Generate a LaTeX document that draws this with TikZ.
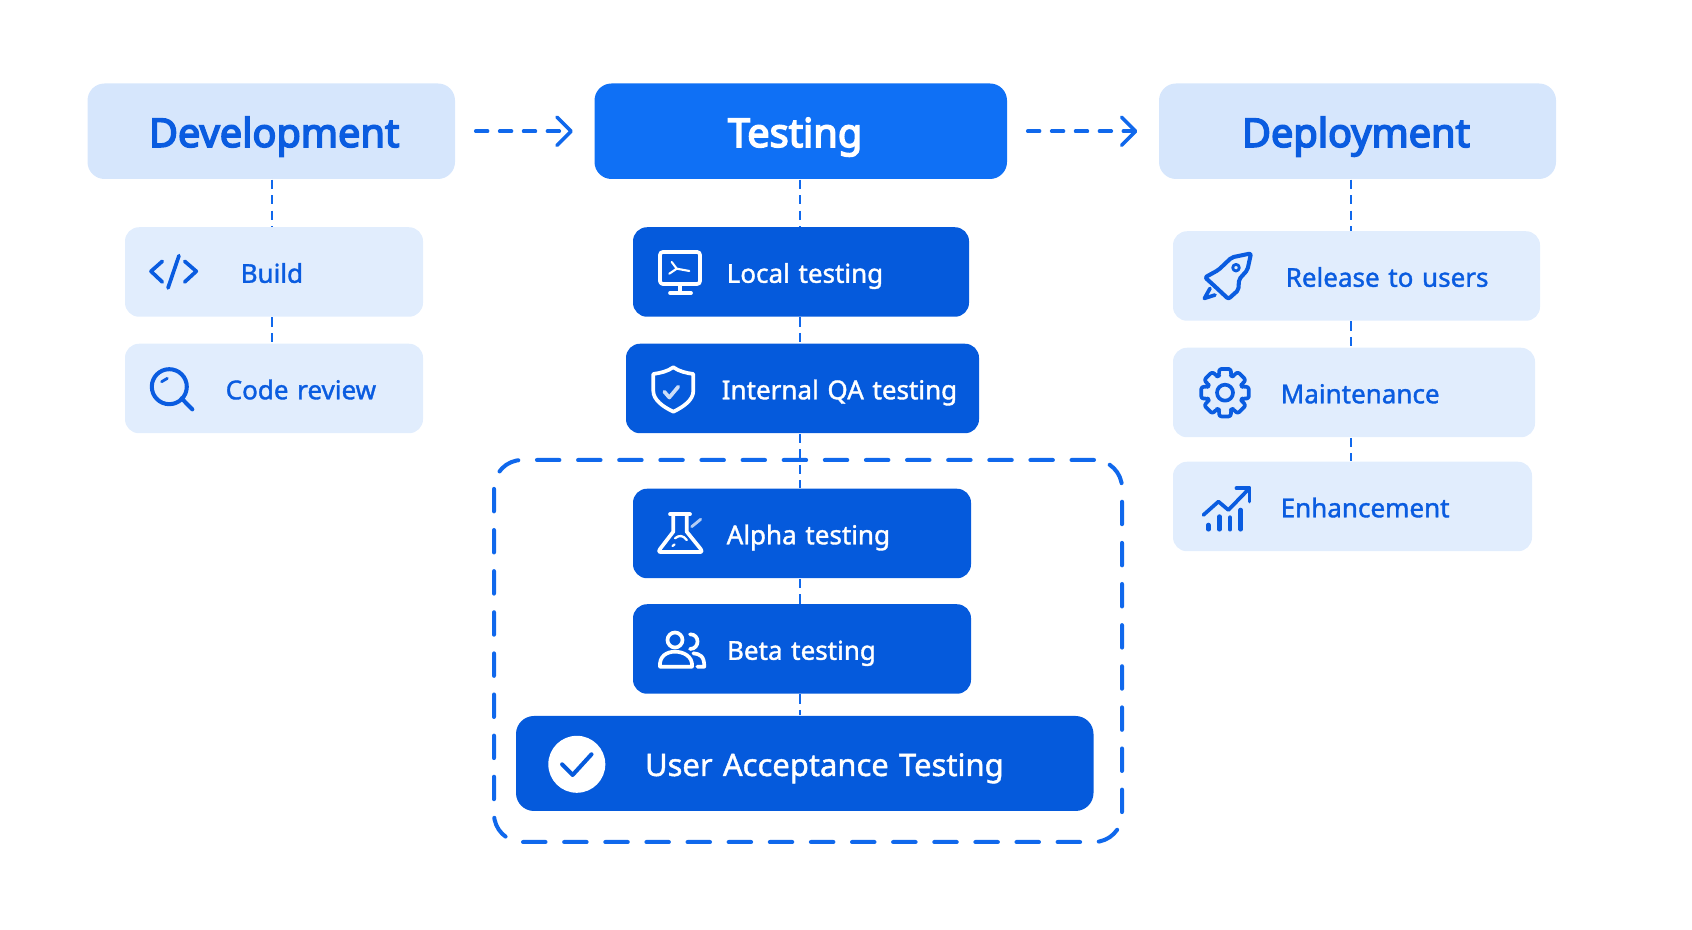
\documentclass[tikz,border=0pt]{standalone}
\usepackage{xcolor}
\usepackage{fontspec}
\setmainfont{Noto Sans}
\newfontfamily\headfont[FakeBold=4]{Noto Sans}
\newfontfamily\rowfont[FakeBold=1.4]{Noto Sans}
\usepackage{tikz}
\usetikzlibrary{arrows.meta}
\definecolor{headlight}{HTML}{D6E6FC}
\definecolor{rowlight}{HTML}{E1EDFD}
\definecolor{headblue}{HTML}{0F70F5}
\definecolor{rowblue}{HTML}{055ADC}
\definecolor{inkblue}{HTML}{0A5CE0}
\definecolor{linkblue}{HTML}{1068EC}
\begin{document}
\begin{tikzpicture}[
  box/.style={rectangle, rounded corners=0.14cm, inner xsep=0pt, inner ysep=0pt,
    align=left, text height=0.28cm, text depth=0.064cm},
  headbox/.style={box, rounded corners=0.17cm, minimum height=0.955cm,
    text height=0.40cm, text depth=0.085cm, font=\fontsize{11.3}{14}\headfont},
  lightrow/.style={box, fill=rowlight, text=inkblue, minimum height=0.895cm,
    font=\fontsize{7.4}{10}\rowfont},
  darkrow/.style={box, fill=rowblue, text=white, minimum height=0.895cm,
    font=\fontsize{7.4}{10}\rowfont},
  groupframe/.style={rectangle, draw=linkblue, line width=1.14pt, rounded corners=0.28cm,
    line cap=round, dash pattern=on 6.4pt off 5.3pt, minimum width=6.28cm, minimum height=3.82cm},
  link/.style={draw=linkblue, line width=0.7pt, dash pattern=on 2.6pt off 1.8pt},
  flow/.style={draw=linkblue, line width=1pt, line cap=round, dash pattern=on 3.4pt off 3.4pt,
    shorten <=0.2cm, shorten >=0.21cm,
    -{Straight Barb[length=4pt, width=8pt, round]}},
  icon/.style={line width=1.05pt, line cap=round, line join=round},
]
  %% Row 1: the three stages
  \node[headbox, fill=headlight, text=inkblue, text width=3.675cm] (dev) at (2.7125,7.9875)
    {\hspace*{0.615cm}Development};
  \node[headbox, fill=headblue, text=white, text width=4.125cm] (test) at (8.0075,7.9875)
    {\hspace*{1.335cm}Testing};
  \node[headbox, fill=headlight, text=inkblue, text width=3.97cm] (depl) at (13.575,7.9875)
    {\hspace*{0.83cm}Deployment};

  %% Left column
  \node[lightrow, text width=2.98cm] (build) at (2.74,6.58) {\hspace*{1.157cm}Build};
  \node[lightrow, text width=2.98cm] (code) at (2.74,5.415) {\hspace*{1.007cm}Code review};

  %% Centre column
  \node[groupframe] (group) at (8.08,2.79) {};
  \node[darkrow, text width=3.36cm] (local) at (8.01,6.58) {\hspace*{0.937cm}Local testing};
  \node[darkrow, text width=3.53cm] (intqa) at (8.025,5.415) {\hspace*{0.957cm}Internal QA testing};
  \node[darkrow, text width=3.38cm] (alpha) at (8.02,3.965) {\hspace*{0.937cm}Alpha testing};
  \node[darkrow, text width=3.38cm] (beta) at (8.02,2.81) {\hspace*{0.94cm}Beta testing};
  \node[darkrow, rounded corners=0.18cm, minimum height=0.95cm, text width=5.775cm,
    text height=0.32cm, text depth=0.07cm, font=\fontsize{8.8}{11}\rowfont] (uat) at (8.0475,1.665)
    {\hspace*{1.29cm}User Acceptance Testing};

  %% Right column
  \node[lightrow, text width=3.67cm] (release) at (13.565,6.54) {\hspace*{1.127cm}Release to users};
  \node[lightrow, text width=3.62cm] (maint) at (13.54,5.375) {\hspace*{1.077cm}Maintenance};
  \node[lightrow, text width=3.59cm] (enh) at (13.525,4.235) {\hspace*{1.077cm}Enhancement};

  %% Arrows between the stages
  \draw[flow] (dev) -- (test);
  \draw[flow] (test) -- (depl);

  %% Dotted links down each column
  \coordinate (leftline) at (2.72,0);
  \coordinate (midline) at (8.00,0);
  \coordinate (rightline) at (13.51,0);
  \draw[link] (dev.south -| leftline) -- (build.north -| leftline);
  \draw[link] (build.south -| leftline) -- (code.north -| leftline);
  \draw[link] (test.south -| midline) -- (local.north -| midline);
  \draw[link] (local.south -| midline) -- (intqa.north -| midline);
  \draw[link] (intqa.south -| midline) -- (alpha.north -| midline);
  \draw[link] (alpha.south -| midline) -- (beta.north -| midline);
  \draw[link] (beta.south -| midline) -- (uat.north -| midline);
  \draw[link] (depl.south -| rightline) -- (release.north -| rightline);
  \draw[link] (release.south -| rightline) -- (maint.north -| rightline);
  \draw[link] (maint.south -| rightline) -- (enh.north -| rightline);

  %% Icons, one pixel of the reference = 0.1mm
  % code brackets
  \begin{scope}[shift={(1.73,6.58)}, x=0.1mm, y=0.1mm, icon, draw=inkblue]
    \draw (-10.7,10.7) -- (-22,0.7) -- (-10.7,-10);
    \draw (6,16.3) -- (-5,-16);
    \draw (11.7,10.7) -- (23.3,0.7) -- (11.7,-10);
  \end{scope}
  % magnifier
  \begin{scope}[shift={(1.693,5.433)}, x=0.1mm, y=0.1mm, icon, draw=inkblue]
    \draw[line width=1.15pt] (0,0) circle (17.5);
    \draw[line width=1.15pt] (12.3,-11.7) -- (23,-22.7);
    \draw[line width=0.8pt] (-7.7,5) -- (-2,8.3);
  \end{scope}
  % monitor
  \begin{scope}[shift={(6.80,6.62)}, x=0.1mm, y=0.1mm, icon, draw=white]
    \draw[rounded corners=0.8pt] (-20,-16) rectangle (20,16);
    \draw (0,-16) -- (0,-25);
    \draw (-10,-25) -- (11,-25);
    \draw[line width=0.6pt] (-8.3,6) -- (-3.3,-0.7) -- (-10.7,-5.7);
    \draw[line width=0.6pt] (-3.3,-0.7) -- (9.3,-3);
  \end{scope}
  % shield
  \begin{scope}[shift={(6.733,5.40)}, x=0.1mm, y=0.1mm, icon, draw=white]
    \draw (0,22.7) .. controls (6,18.5) and (13,17) .. (20,16) -- (20,-1)
      .. controls (20,-10) and (10,-17) .. (0,-21.7)
      .. controls (-10,-17) and (-20,-10) .. (-20,-1) -- (-20,16)
      .. controls (-13,17) and (-6,18.5) .. (0,22.7) -- cycle;
    \draw[draw=white!80!rowblue] (-9,-1.7) -- (-4,-7.5) -- (5,3.3);
  \end{scope}
  % flask
  \begin{scope}[shift={(6.80,3.96)}, x=0.1mm, y=0.1mm, icon, draw=white]
    \draw (-10,19.7) -- (10,19.7);
    \draw (-6.7,19.7) -- (-6.7,2.3) -- (-20,-15) .. controls (-21.5,-18) .. (-18,-18)
      -- (19,-18) .. controls (22,-18) .. (20.7,-15) -- (6.7,2.3) -- (6.7,19.7);
    \draw[line width=0.65pt] (-5,-4.3) .. controls (-1,-1) and (3,-1) .. (6.7,-6);
    \draw[line width=0.65pt] (-7.5,-12) -- (-5.5,-10.5);
    \draw[draw=white!70!rowblue, line width=0.8pt] (11.7,7.3) -- (20.7,14.7);
  \end{scope}
  % users
  \begin{scope}[shift={(6.80,2.86)}, x=0.1mm, y=0.1mm, icon, draw=white]
    \draw (-5,4) circle (7.5);
    \draw (-20,-22.7) .. controls (-21,-12) and (-13,-7.7) .. (-5,-7.7)
      .. controls (3,-7.7) and (13,-12) .. (12,-22.7) -- cycle;
    \draw (10,9.7) .. controls (20,10) and (20,-5) .. (10,-5);
    \draw (13.3,-9.3) .. controls (20,-10) and (24.3,-12) .. (24.3,-22.7) -- (17.3,-22.7);
  \end{scope}
  % check mark
  \node[circle, fill=white, minimum size=0.57cm, inner sep=0pt] (okmark) at (5.768,1.657) {};
  \begin{scope}[shift={(okmark.center)}, x=0.1mm, y=0.1mm, icon, draw=rowblue]
    \draw[line width=1.15pt] (-14.7,0) -- (-4.2,-10.7) -- (14.7,10);
  \end{scope}
  % rocket
  \begin{scope}[shift={(12.267,6.533)}, x=0.1mm, y=0.1mm, icon, draw=inkblue]
    \draw[line width=1.15pt, rounded corners=0.6pt] (24.3,23.3) -- (5,19.3) -- (-8.3,6.7) -- (-21.7,-0.7)
      -- (-13.3,-8.3) -- (1.7,-22.3) -- (11.7,-13.3) -- (12.3,-2.7) -- (20.7,6.7) -- cycle;
    \draw[line width=0.8pt] (9.3,9) circle (3.3);
    \draw (-16.7,-11.7) -- (-22.3,-21.7) -- (-11.7,-18.3);
  \end{scope}
  % gear
  \begin{scope}[shift={(12.25,5.373)}, x=0.1mm, y=0.1mm, icon, draw=inkblue]
    \draw[rounded corners=0.7pt] (-14:24.5)
      \foreach \a in {0,45,...,315} {-- ({\a-14}:24.5) -- ({\a+14}:24.5) -- ({\a+19}:18) -- ({\a+26}:18)}
      -- cycle;
    \draw (0,0) circle (8);
  \end{scope}
  % rising chart
  \begin{scope}[shift={(12.257,4.207)}, x=0.1mm, y=0.1mm, icon, draw=inkblue]
    \draw (-22.3,-5.7) -- (-7.3,7.7) -- (2.7,-0.7) -- (23.7,21);
    \draw (10.7,21) -- (23.7,21) -- (23.7,7.7);
    \draw[line width=1.3pt] (-17.3,-15.7) -- (-17.3,-20);
    \draw[line width=1.3pt] (-6.3,-7.3) -- (-6.3,-20);
    \draw[line width=1.3pt] (4.3,-8.3) -- (4.3,-20);
    \draw[line width=1.3pt] (15,-0.7) -- (15,-20);
  \end{scope}

  \useasboundingbox (0,0) rectangle (16.92,9.30);
\end{tikzpicture}
\end{document}
